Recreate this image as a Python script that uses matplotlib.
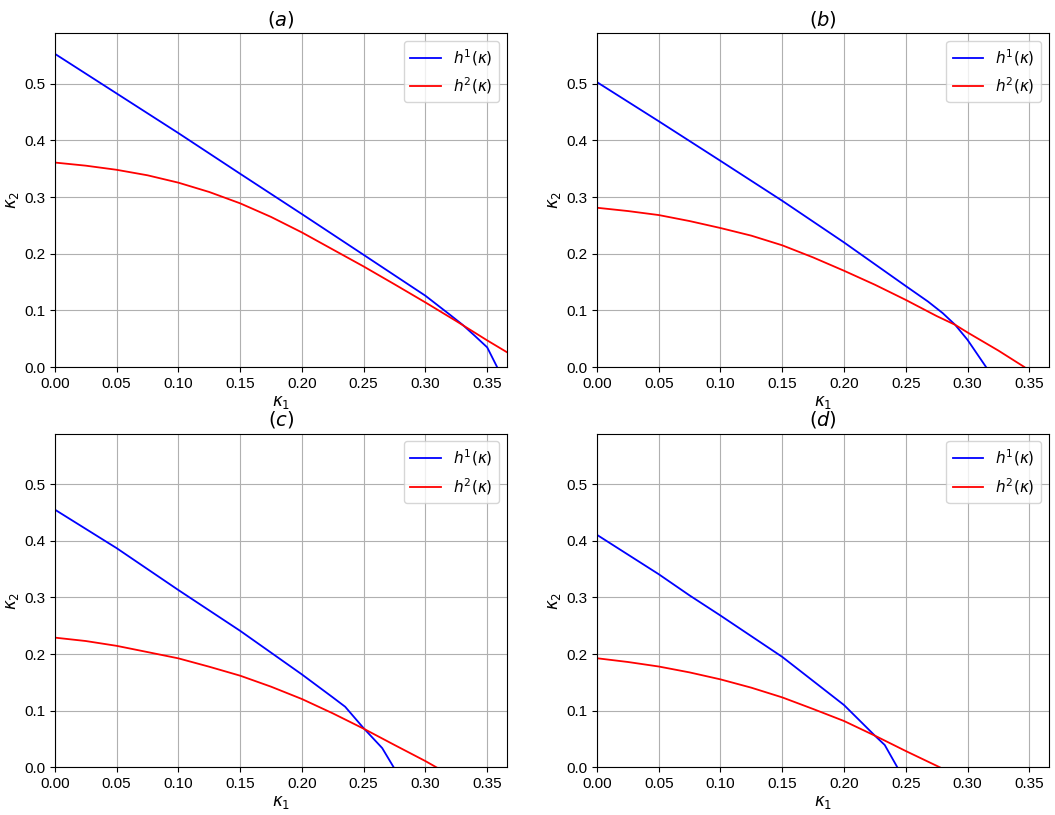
import matplotlib
matplotlib.use('Agg')
import matplotlib.pyplot as plt

plt.rcParams['font.family'] = ['Liberation Sans', 'DejaVu Sans']
plt.rcParams['mathtext.fontset'] = 'dejavusans'
plt.rcParams['font.size'] = 11

# values: kappa_1 samples and the two boundary curves
titles = ['$(a)$', '$(b)$', '$(c)$', '$(d)$']

h1_x_a = [0.0, 0.05, 0.10, 0.15, 0.20, 0.25, 0.30, 0.32, 0.33, 0.34, 0.35, 0.358]
h1_y_a = [0.553, 0.483, 0.413, 0.3412, 0.270, 0.198, 0.1258, 0.092, 0.0747, 0.055, 0.0347, 0.0]
h2_x_a = [0.0, 0.025, 0.05, 0.075, 0.10, 0.125, 0.15, 0.175, 0.20, 0.225, 0.25, 0.275, 0.30, 0.325, 0.35, 0.3657]
h2_y_a = [0.361, 0.3555, 0.3482, 0.3385, 0.3255, 0.309, 0.289, 0.265, 0.2376, 0.2075, 0.1775, 0.146, 0.114, 0.081, 0.047, 0.0265]

h1_x_b = [0.0, 0.05, 0.10, 0.15, 0.20, 0.25, 0.268, 0.28, 0.29, 0.30, 0.315]
h1_y_b = [0.503, 0.434, 0.364, 0.2935, 0.220, 0.143, 0.1156, 0.095, 0.0745, 0.048, 0.0]
h2_x_b = [0.0, 0.025, 0.05, 0.075, 0.10, 0.125, 0.15, 0.175, 0.20, 0.225, 0.25, 0.275, 0.29, 0.30, 0.325, 0.346]
h2_y_b = [0.2812, 0.2754, 0.2683, 0.2577, 0.2454, 0.2319, 0.2149, 0.1935, 0.170, 0.1453, 0.1185, 0.090, 0.0745, 0.061, 0.029, 0.0]

h1_x_c = [0.0, 0.05, 0.10, 0.15, 0.20, 0.225, 0.235, 0.25, 0.265, 0.2743]
h1_y_c = [0.455, 0.387, 0.313, 0.241, 0.164, 0.1235, 0.107, 0.069, 0.034, 0.0]
h2_x_c = [0.0, 0.025, 0.05, 0.075, 0.10, 0.125, 0.15, 0.175, 0.20, 0.225, 0.25, 0.275, 0.30, 0.3089]
h2_y_c = [0.229, 0.223, 0.2145, 0.2035, 0.1924, 0.1776, 0.1618, 0.1424, 0.1206, 0.0953, 0.0682, 0.0394, 0.011, 0.0]

h1_x_d = [0.0, 0.05, 0.075, 0.10, 0.15, 0.20, 0.215, 0.225, 0.233, 0.2432]
h1_y_d = [0.4105, 0.341, 0.3035, 0.268, 0.195, 0.110, 0.0776, 0.0559, 0.0394, 0.0]
h2_x_d = [0.0, 0.025, 0.05, 0.075, 0.10, 0.125, 0.15, 0.175, 0.20, 0.225, 0.25, 0.2776]
h2_y_d = [0.1926, 0.186, 0.178, 0.1676, 0.1553, 0.1406, 0.1235, 0.103, 0.0818, 0.0559, 0.0288, 0.0]

panels = [
    (h1_x_a, h1_y_a, h2_x_a, h2_y_a),
    (h1_x_b, h1_y_b, h2_x_b, h2_y_b),
    (h1_x_c, h1_y_c, h2_x_c, h2_y_c),
    (h1_x_d, h1_y_d, h2_x_d, h2_y_d),
]

fig, axes = plt.subplots(2, 2, figsize=(10.55, 8.15), dpi=100)
fig.subplots_adjust(left=0.052, right=0.994, bottom=0.0585, top=0.959,
                    wspace=0.2, hspace=0.2)

for ax, title, (x1, y1, x2, y2) in zip(axes.flat, titles, panels):
    ax.plot(x1, y1, color='blue', linewidth=1.3, label=r'$h^1(\kappa)$')
    ax.plot(x2, y2, color='red', linewidth=1.3, label=r'$h^2(\kappa)$')
    ax.set_xlim(0, 0.3657)
    ax.set_ylim(0, 0.589)
    ax.set_xticks([0.0, 0.05, 0.10, 0.15, 0.20, 0.25, 0.30, 0.35])
    ax.set_yticks([0.0, 0.1, 0.2, 0.3, 0.4, 0.5])
    ax.grid(True)
    ax.set_xlabel(r'$\kappa_1$', fontsize=12, labelpad=2)
    ax.set_ylabel(r'$\kappa_2$', fontsize=12, labelpad=2)
    ax.set_title(title, fontsize=14)
    ax.legend(loc='upper right', fontsize=11)

plt.savefig('out.png', dpi=100)
